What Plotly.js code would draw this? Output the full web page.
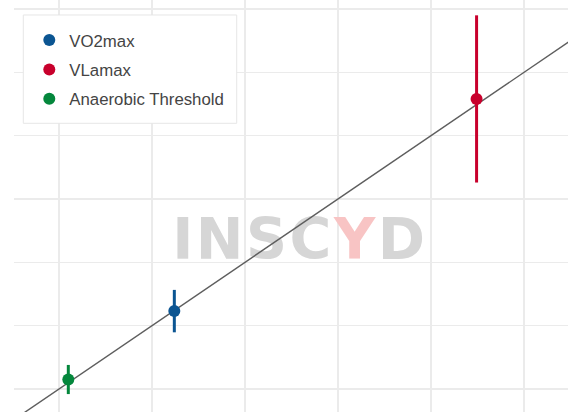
<!DOCTYPE html>
<html>
<head>
<meta charset="utf-8">
<script src="https://cdn.plot.ly/plotly-3.0.1.min.js"></script>
<style>html,body{margin:0;padding:0;background:#fff;}#chart{width:568px;height:412px;}</style>
</head>
<body>
<div id="chart"></div>
<script>
// ---- data ----
const categories = ['VO2max', 'VLamax', 'Anaerobic Threshold'];
const xValues = [2.24, 5.49, 1.10];
const yValues = [2.23, 5.58, 1.15];
const yErrors = [0.335, 1.32, 0.23];
const identityLine = [0, 8];
const watermark = '<span style="letter-spacing:2.5px">INSC<span style="color:#f8c4c4">Y</span>D</span>';

// ---- style ----
const colors = ['#0b5592', '#c8002c', '#04873c'];
const xRange = [0.516, 6.473];
const yRange = [0.637, 7.142];

const traces = [];
traces.push({
  x: [xRange[0] + 0.516 * (xRange[1] - xRange[0])],
  y: [yRange[0] + 0.406 * (yRange[1] - yRange[0])],
  mode: 'text', text: [watermark], showlegend: false, hoverinfo: 'skip',
  textfont: {family: 'DejaVu Sans', size: 57, weight: 'bold', color: '#d6d6d6'}
});
traces.push({
  x: identityLine, y: identityLine, mode: 'lines', showlegend: false, hoverinfo: 'skip',
  line: {color: '#5e5e5e', width: 1.4}
});
categories.forEach((c, i) => {
  traces.push({
    x: [xValues[i]], y: [yValues[i]], name: c, mode: 'markers', legendgroup: c,
    marker: {color: colors[i], size: 12},
    error_y: {type: 'data', array: [yErrors[i]], visible: true, thickness: 3, width: 0, color: colors[i]}
  });
});

const layout = {
  width: 568, height: 412,
  margin: {l: 14, r: 0, t: 0, b: 0, pad: 0},
  paper_bgcolor: '#fff', plot_bgcolor: '#fff',
  font: {family: 'Liberation Sans, Arial, sans-serif', color: '#444'},
  xaxis: {range: xRange, dtick: 1, tick0: 0, showticklabels: false, zeroline: false, showline: false,
          gridcolor: '#ebebeb', gridwidth: 1.2, ticks: ''},
  yaxis: {range: yRange, dtick: 1, tick0: 0, showticklabels: false, zeroline: false, showline: false,
          gridcolor: '#ebebeb', gridwidth: 1.2, ticks: ''},
  shapes: [{type: 'rect', xref: 'paper', yref: 'paper', x0: 0.0168, x1: 0.402, y0: 0.7007, y1: 0.9636,
            line: {color: '#e6e6e6', width: 1}, fillcolor: '#fff', layer: 'above'}],
  showlegend: true,
  legend: {x: 0.0276, y: 0.945, xanchor: 'left', yanchor: 'top', bgcolor: 'rgba(0,0,0,0)',
           borderwidth: 0, font: {size: 16.8, color: '#444'}, tracegroupgap: 4.5}
};
Plotly.newPlot('chart', traces, layout, {displayModeBar: false, staticPlot: true});
</script>
</body>
</html>
